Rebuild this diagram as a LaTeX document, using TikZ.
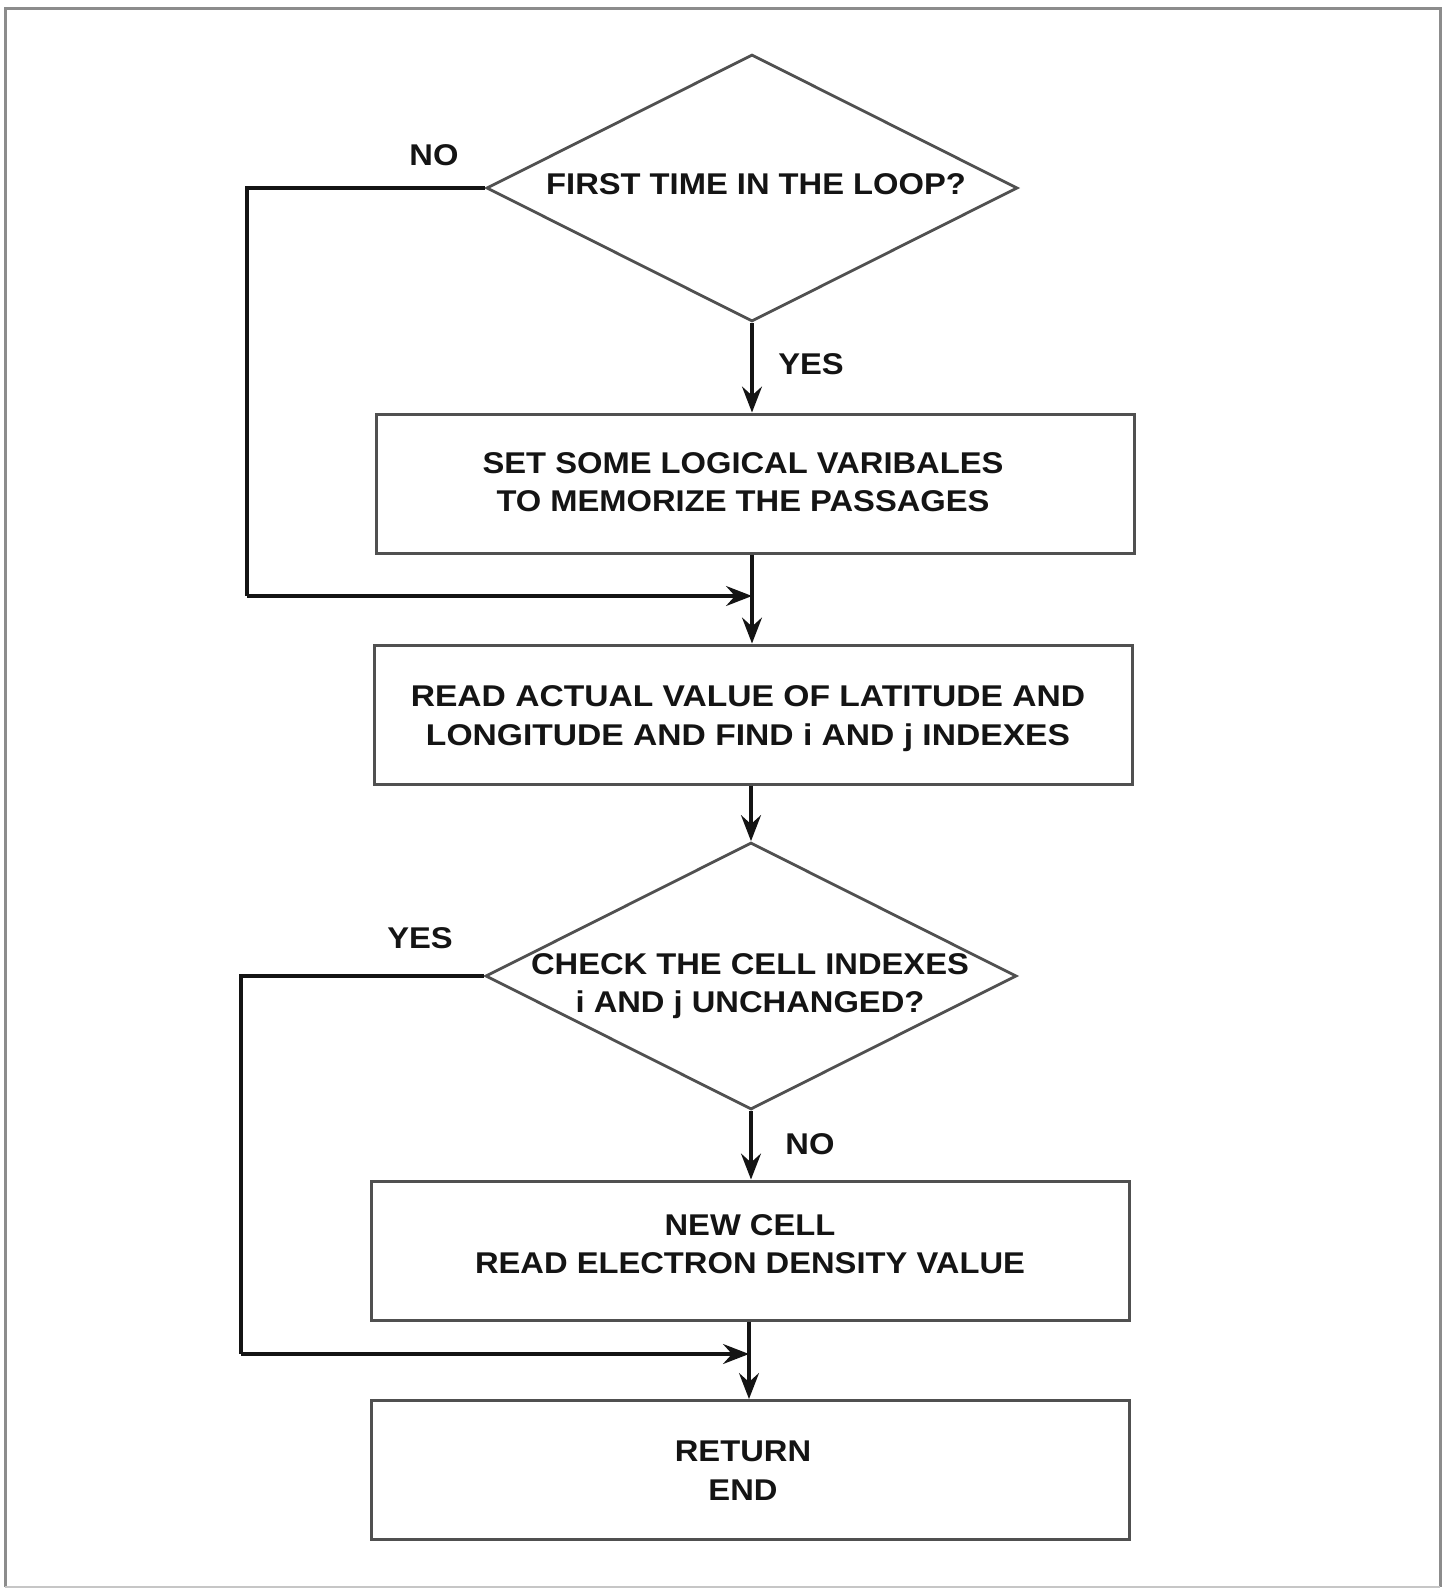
\documentclass[tikz,border=0pt]{standalone}
\usepackage{fontspec}
\setmainfont{Liberation Sans}[FakeStretch=1.09]
\usetikzlibrary{shapes.geometric,arrows.meta}
\definecolor{shapegray}{HTML}{505050}
\definecolor{framegray}{HTML}{8C8C8C}
\definecolor{linkblack}{HTML}{141414}
\begin{document}
\begin{tikzpicture}[x=1pt,y=-1pt,
  txt/.style={font=\fontsize{30}{38.6}\selectfont\bfseries, align=center, inner sep=0, text=black!92},
  stepbox/.style={draw=shapegray, line width=3pt, minimum width=758pt, minimum height=139pt, inner sep=0},
  decision/.style={diamond, draw=shapegray, line width=2.8pt, minimum width=531pt, minimum height=267pt, inner sep=0},
  link/.style={draw=linkblack, line width=3.1pt},
  arr/.style={link, -{Stealth[length=26pt,width=20pt,inset=9pt]}}]

  % page and outer frame
  \useasboundingbox (0,0) rectangle (1450,1591);
  \fill[white] (0,0) rectangle (1450,1591);
  \draw[framegray, line width=3pt] (5,1587) -- (5,8) -- (1440,8) -- (1440,1587);
  \draw[framegray!50, line width=1.5pt] (5,1587) -- (1440,1587);

  % shapes
  \node[decision] (d1) at (752,188) {};
  \node[stepbox]  (b1) at (755,483.5) {};
  \node[stepbox]  (b2) at (753,714.5) {};
  \node[decision] (d2) at (751,976) {};
  \node[stepbox]  (b3) at (750,1250.5) {};
  \node[stepbox]  (b4) at (750.5,1470) {};

  % texts
  \node[txt] (t1) at (756,184) {FIRST TIME IN THE LOOP?};
  \node[txt] (t2) at (743,482) {SET SOME LOGICAL VARIBALES\\TO MEMORIZE THE PASSAGES};
  \node[font=\fontsize{30}{38.6}\selectfont\bfseries\addfontfeatures{FakeStretch=1.12},
        align=center, inner sep=0, text=black!92] (t3) at (748,718.5)
        {READ ACTUAL VALUE OF LATITUDE AND\\LONGITUDE AND FIND i AND j INDEXES};
  \node[txt] (t4) at (750,986) {CHECK THE CELL INDEXES\\i AND j UNCHANGED?};
  \node[txt] (t5) at (750,1244) {NEW CELL\\READ ELECTRON DENSITY VALUE};
  \node[txt] (t6) at (743,1470.5) {RETURN\\END};

  % branch labels
  \node[txt] (no1)  at (434,155)  {NO};
  \node[txt] (yes1) at (811,364)  {YES};
  \node[txt] (yes2) at (420,938)  {YES};
  \node[txt] (no2)  at (810,1144) {NO};

  % merge points and loop corners
  \coordinate (m1) at (752,596);
  \coordinate (l1) at (247,596);
  \coordinate (m2) at (749,1354);
  \coordinate (l2) at (241,1354);

  % connectors
  \draw[arr] (d1.south) -- (d1.south |- b1.north);
  \draw[link] (d1.west) -| (l1);
  \draw[arr] (l1) -- (m1);
  \draw[arr] (m1 |- b1.south) -- (m1 |- b2.north);
  \draw[arr] (b2.south -| d2.north) -- (d2.north);
  \draw[arr] (d2.south) -- (d2.south |- b3.north);
  \draw[link] (d2.west) -| (l2);
  \draw[arr] (l2) -- (m2);
  \draw[arr] (m2 |- b3.south) -- (m2 |- b4.north);
\end{tikzpicture}
\end{document}
